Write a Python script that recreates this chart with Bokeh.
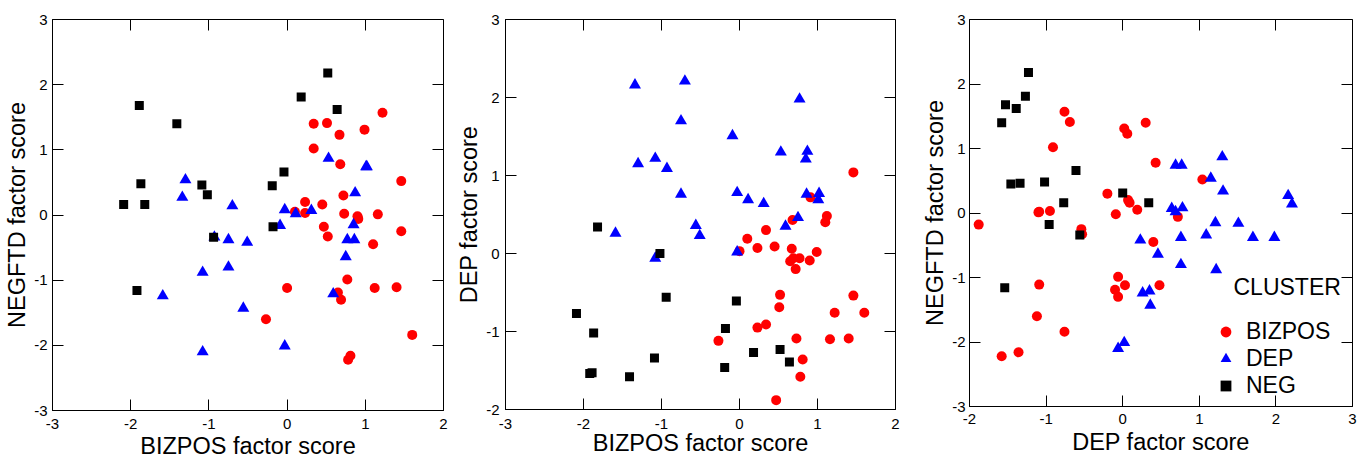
from bokeh.plotting import figure
from bokeh.models import (Range1d, FixedTicker, LinearAxis, Legend, LegendItem,
                          Label, CustomJSTickFormatter)
from bokeh.layouts import row
from bokeh.embed import file_html
from bokeh.resources import INLINE

# ---- data: factor scores per respondent, grouped by cluster ----
clusters = ["BIZPOS", "DEP", "NEG"]

bizpos_bizpos = [1.22, 0.34, 0.51, 0.67, 0.99, 0.34, 0.68, 1.46, 0.72, 0.23, 0.45, 0.10, 0.23, 0.73, 0.90, 0.91,
                 1.16, 0.47, 0.52, 1.46, 1.10, 0.77, 0.00, 0.65, 0.69, 1.12, 1.40, -0.27, 1.60, 0.81, 0.78]
bizpos_dep = [-0.76, 0.30, -0.69, 0.06, 0.02, -0.91, 0.43, 1.04, -0.20, 0.07, 0.09, 0.19, -0.95, -1.09, -0.09, 0.72,
              -1.10, -1.88, -0.53, -0.54, 0.40, -0.06, 0.03, -0.10, -0.06, 0.48, -1.09, -1.12, -0.76, -1.36, -1.58]
bizpos_negftd = [1.57, 1.40, 1.41, 1.23, 1.31, 1.02, 0.78, 0.52, 0.30, 0.20, 0.16, 0.05, 0.03, 0.02, -0.02, -0.06,
                 0.01, -0.18, -0.33, -0.25, -0.45, -0.99, -1.12, -1.19, -1.30, -1.12, -1.11, -1.60, -1.84, -2.16, -2.22]

dep_bizpos = [0.53, 1.02, 1.01, -1.30, -1.34, 0.87, -0.70, -0.03, 0.11, 0.31, -0.09, 0.85, -0.93, -0.75, -0.75,
              -0.51, 0.77, 0.86, 0.75, -1.08, -1.08, 0.59, -1.59, -0.56, -0.03]
dep_dep = [1.30, 0.77, 0.69, 1.15, 2.16, 1.31, 2.21, 0.78, 0.69, 0.64, 1.51, 1.21, 1.09, 1.70, 0.76,
           0.23, 1.98, 0.76, 0.46, 1.22, -0.06, 0.35, 0.26, 0.36, 0.02]
dep_negftd = [0.87, 0.74, 0.74, 0.54, 0.27, 0.34, 0.14, 0.08, 0.02, 0.07, -0.16, -0.15, -0.34, -0.38, -0.80,
              -0.42, -0.38, -0.38, -0.64, -0.88, -2.10, -1.21, -1.24, -1.43, -2.01]

neg_bizpos = [0.52, 0.18, 0.64, -1.89, -1.41, -1.87, -2.09, -1.82, -1.09, -1.02, -0.04, -0.19, -0.18, -0.94, -1.92]
neg_dep = [-1.23, -1.27, -1.39, -1.53, -1.58, -1.02, -0.77, 0.34, -1.34, 0.00, -0.61, -1.46, -0.96, -0.56, -1.54]
neg_negftd = [2.18, 1.81, 1.62, 1.68, 1.40, 0.48, 0.16, 0.16, 0.46, 0.31, 0.66, 0.45, -0.18, -0.34, -1.16]

ticks_a = [-3, -2, -1, 0, 1, 2, 3]
tick_labels = {-3: "-3", -2: "-2", -1: "-1", 0: "0", 1: "1", 2: "2", 3: "3"}

data = {
    "BIZPOS": {"BIZPOS": bizpos_bizpos, "DEP": bizpos_dep, "NEGFTD": bizpos_negftd},
    "DEP": {"BIZPOS": dep_bizpos, "DEP": dep_dep, "NEGFTD": dep_negftd},
    "NEG": {"BIZPOS": neg_bizpos, "DEP": neg_dep, "NEGFTD": neg_negftd},
}
styles = {
    "BIZPOS": dict(marker="circle", size=10, color="#ff0000"),
    "DEP": dict(marker="triangle", size=12, color="#0000ff"),
    "NEG": dict(marker="square", size=9, color="#000000"),
}

FONT = "Liberation Sans"


def base_axis(ax):
    ax.ticker = FixedTicker(ticks=ticks_a)
    ax.major_tick_in = 11
    ax.major_tick_out = 0
    ax.minor_tick_in = 0
    ax.minor_tick_out = 0
    ax.minor_tick_line_color = None
    ax.major_tick_line_color = "black"
    ax.major_tick_line_width = 1
    ax.axis_line_color = "black"
    ax.axis_line_width = 1


def label_axis(ax, title, standoff, label_standoff):
    base_axis(ax)
    ax.axis_label = title
    ax.major_label_overrides = tick_labels
    ax.major_label_text_font = FONT
    ax.major_label_text_font_size = "15px"
    ax.major_label_text_color = "black"
    ax.major_label_standoff = standoff
    ax.axis_label_text_font = FONT
    ax.axis_label_text_font_size = "23.5px"
    ax.axis_label_text_font_style = "normal"
    ax.axis_label_text_color = "black"
    ax.axis_label_standoff = label_standoff


def mirror_axis(ax, loc):
    base_axis(ax)
    ax.fixed_location = loc
    ax.formatter = CustomJSTickFormatter(code="return ''")
    ax.major_label_text_font_size = "0px"
    ax.major_label_standoff = 0


def make_panel(xvar, yvar, xr, yr, fw, fh, left, right, top, bottom, xso, xals, yso, yals):
    p = figure(frame_width=fw, frame_height=fh, min_border_left=left, min_border_right=right,
               min_border_top=top, min_border_bottom=bottom,
               x_range=Range1d(*xr), y_range=Range1d(*yr),
               toolbar_location=None, output_backend="svg",
               background_fill_color="white", border_fill_color="white")
    p.title.visible = False
    p.grid.visible = False
    p.outline_line_color = "black"
    p.outline_line_width = 1
    xa = p.below[0]
    ya = p.left[0]
    label_axis(xa, xvar + " factor score", xso, xals)
    label_axis(ya, yvar + " factor score", yso, yals)
    top_ax = LinearAxis()
    right_ax = LinearAxis()
    mirror_axis(top_ax, yr[1])
    mirror_axis(right_ax, xr[1])
    p.add_layout(top_ax, "above")
    p.add_layout(right_ax, "right")
    rends = {}
    for c in clusters:
        st = styles[c]
        rends[c] = p.scatter(data[c][xvar], data[c][yvar], marker=st["marker"], size=st["size"],
                             fill_color=st["color"], line_color=None)
    return p, rends


p1, _ = make_panel("BIZPOS", "NEGFTD", (-3, 2), (-3, 3), 391, 391, 52, 10, 15, 40, 8, 1, 5, 1)
p2, _ = make_panel("BIZPOS", "DEP", (-3, 2), (-2, 3), 390, 390, 49, 11, 19, 40, 9, -2, 6, 1)
p3, r3 = make_panel("DEP", "NEGFTD", (-2, 3), (-3, 3), 383, 387, 63, 14, 18, 40, 7, 2, 4, 1)

legend = Legend(items=[LegendItem(label=c, renderers=[r3[c]]) for c in clusters],
                location=(243, 7), padding=0, margin=0, spacing=0,
                glyph_width=27, glyph_height=27, label_height=27, label_standoff=7,
                label_text_font=FONT, label_text_font_size="23px", label_text_color="black",
                border_line_color=None, background_fill_alpha=0)
p3.add_layout(legend)
p3.add_layout(Label(x=264, y=120, x_units="screen", y_units="screen", text="CLUSTER",
                    text_font=FONT, text_font_size="23px", text_color="black",
                    text_baseline="alphabetic", text_align="left"))

layout = row(p1, p2, p3)
open("out.html", "w").write(file_html(layout, INLINE))
